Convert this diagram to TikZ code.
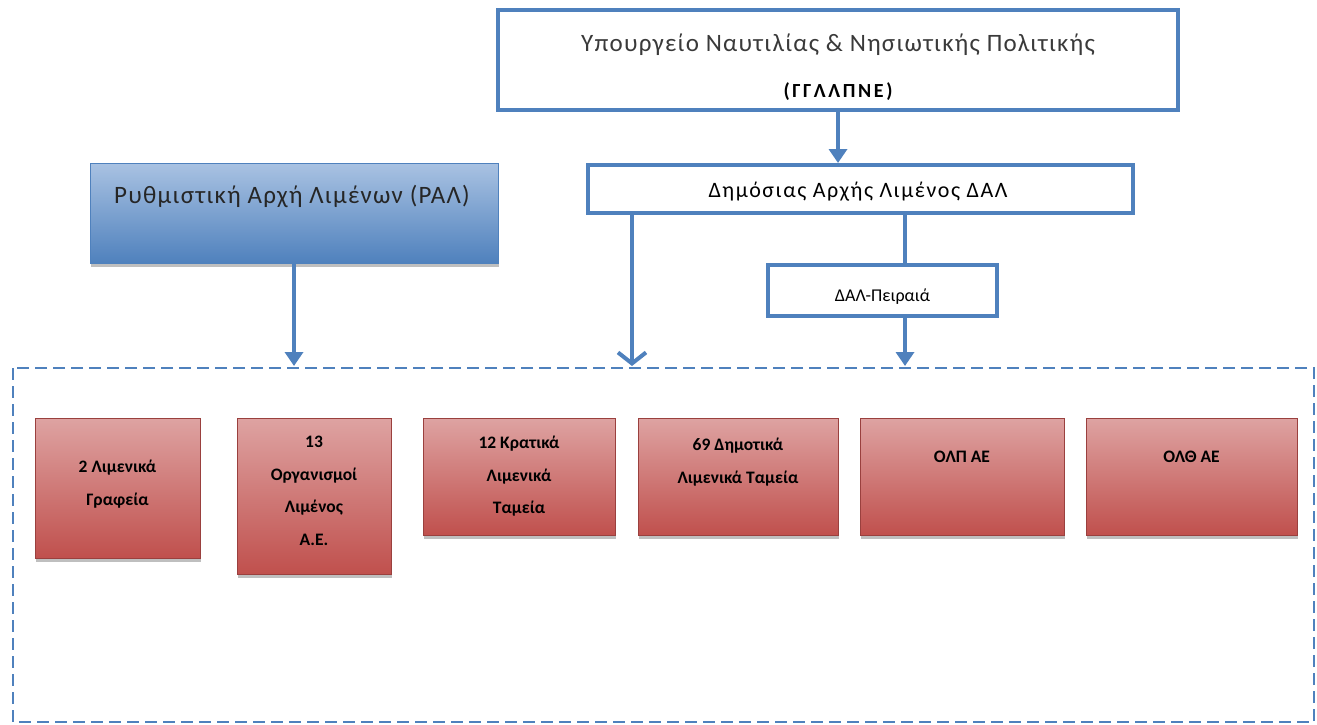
\documentclass[tikz,border=0pt]{standalone}
\usepackage{fontspec}
\setmainfont{Carlito}
\newfontfamily\spacedA[LetterSpace=5]{Carlito}
\newfontfamily\spacedB[LetterSpace=7]{Carlito}
\newfontfamily\spacedC[LetterSpace=13]{Carlito}
\usetikzlibrary{arrows.meta,shadows}
\definecolor{bl}{HTML}{4F81BD}
\definecolor{bltop}{HTML}{A9C2E2}
\definecolor{rtop}{HTML}{DEA3A2}
\definecolor{rbot}{HTML}{C0504D}
\definecolor{txtgray}{HTML}{3A3A3A}
\begin{document}
\begin{tikzpicture}[x=1pt,y=-1pt,
  wbox/.style={draw=bl, line width=4pt, fill=white, inner sep=0pt},
  redbox/.style={draw=rbot!80!black, line width=0.6pt, top color=rtop, bottom color=rbot, inner sep=0pt,
     drop shadow={shadow xshift=1pt, shadow yshift=-4pt, opacity=0.25, fill=black}},
  bluebox/.style={draw=bl, line width=1pt, top color=bltop, bottom color=bl, inner sep=0pt,
     drop shadow={shadow xshift=1pt, shadow yshift=-4pt, opacity=0.25, fill=black}},
  lbl/.style={font=\fontsize{17.5pt}{32.5pt}\selectfont\bfseries, align=center, text=black, anchor=north, inner sep=0pt},
  conn/.style={draw=bl, line width=4pt},
  tip/.style={-{Triangle[length=14pt,width=18pt]}},
  vtip/.style={-{Straight Barb[length=11pt,width=28pt,line width=4pt]}}
]
\useasboundingbox (0,0) rectangle (1317,725);

% dashed container
\draw[bl, line width=1.6pt, dash pattern=on 12pt off 6pt] (13,368) rectangle (1314,722);
\coordinate (c1) at (294,366);
\coordinate (c2) at (632,366);
\coordinate (c3) at (905,366);

% top box
\node[wbox, minimum width=680pt, minimum height=100pt] (min) at (838,60) {};
\node[font=\spacedA\fontsize{25pt}{29pt}\selectfont, text=txtgray, inner sep=0pt] (minA) at (838,45) {Υπουργείο Ναυτιλίας \& Νησιωτικής Πολιτικής};
\node[font=\spacedC\fontsize{20pt}{24pt}\selectfont\bfseries, text=black, inner sep=0pt] (minB) at (838,92) {(ΓΓΛΛΠΝΕ)};

% DAL box
\node[wbox, minimum width=545pt, minimum height=48pt] (dal) at (860.5,189) {};
\node[font=\spacedB\fontsize{22pt}{26pt}\selectfont, text=black, inner sep=0pt] (dalT) at (858,192) {Δημόσιας Αρχής Λιμένος ΔΑΛ};

% DAL-Piraeus
\node[wbox, minimum width=229pt, minimum height=51pt] (dalp) at (882.5,290.5) {};
\node[font=\fontsize{18pt}{22pt}\selectfont, text=black, inner sep=0pt] (dalpT) at (882.5,297) {ΔΑΛ-Πειραιά};

% PAL box
\node[bluebox, minimum width=408pt, minimum height=100pt] (pal) at (294,213) {};
\node[font=\spacedA\fontsize{25pt}{29pt}\selectfont, text=black!85, inner sep=0pt] (palT) at (292,196) {Ρυθμιστική Αρχή Λιμένων (ΡΑΛ)};

% connectors
\draw[conn, tip] (min.south -| 838,0) -- (dal.north -| 838,0);
\draw[conn, tip] (pal.south) -- (c1);
\draw[conn, vtip] (dal.south -| c2) -- (c2);
\draw[conn] (dal.south -| c3) -- (dalp.north -| c3);
\draw[conn, tip] (dalp.south -| c3) -- (c3);

% red boxes
\node[redbox, minimum width=165pt, minimum height=140pt] (r1) at (117.5,488) {};
\node[lbl] (r1T) at (117.5,460) {2 Λιμενικά\\Γραφεία};
\node[redbox, minimum width=154pt, minimum height=156pt] (r2) at (314,496) {};
\node[lbl] (r2T) at (314,436) {13\\Οργανισμοί\\Λιμένος\\Α.Ε.};
\node[redbox, minimum width=192pt, minimum height=117pt] (r3) at (519,476.5) {};
\node[lbl] (r3T) at (519,436) {12 Κρατικά\\Λιμενικά\\Ταμεία};
\node[redbox, minimum width=200pt, minimum height=117pt] (r4) at (738,476.5) {};
\node[lbl] (r4T) at (738,438) {69 Δημοτικά\\Λιμενικά Ταμεία};
\node[redbox, minimum width=204pt, minimum height=117pt] (r5) at (962,476.5) {};
\node[lbl] (r5T) at (962,451) {ΟΛΠ ΑΕ};
\node[redbox, minimum width=211pt, minimum height=117pt] (r6) at (1191.5,476.5) {};
\node[lbl] (r6T) at (1191.5,451) {ΟΛΘ ΑΕ};
\end{tikzpicture}
\end{document}
